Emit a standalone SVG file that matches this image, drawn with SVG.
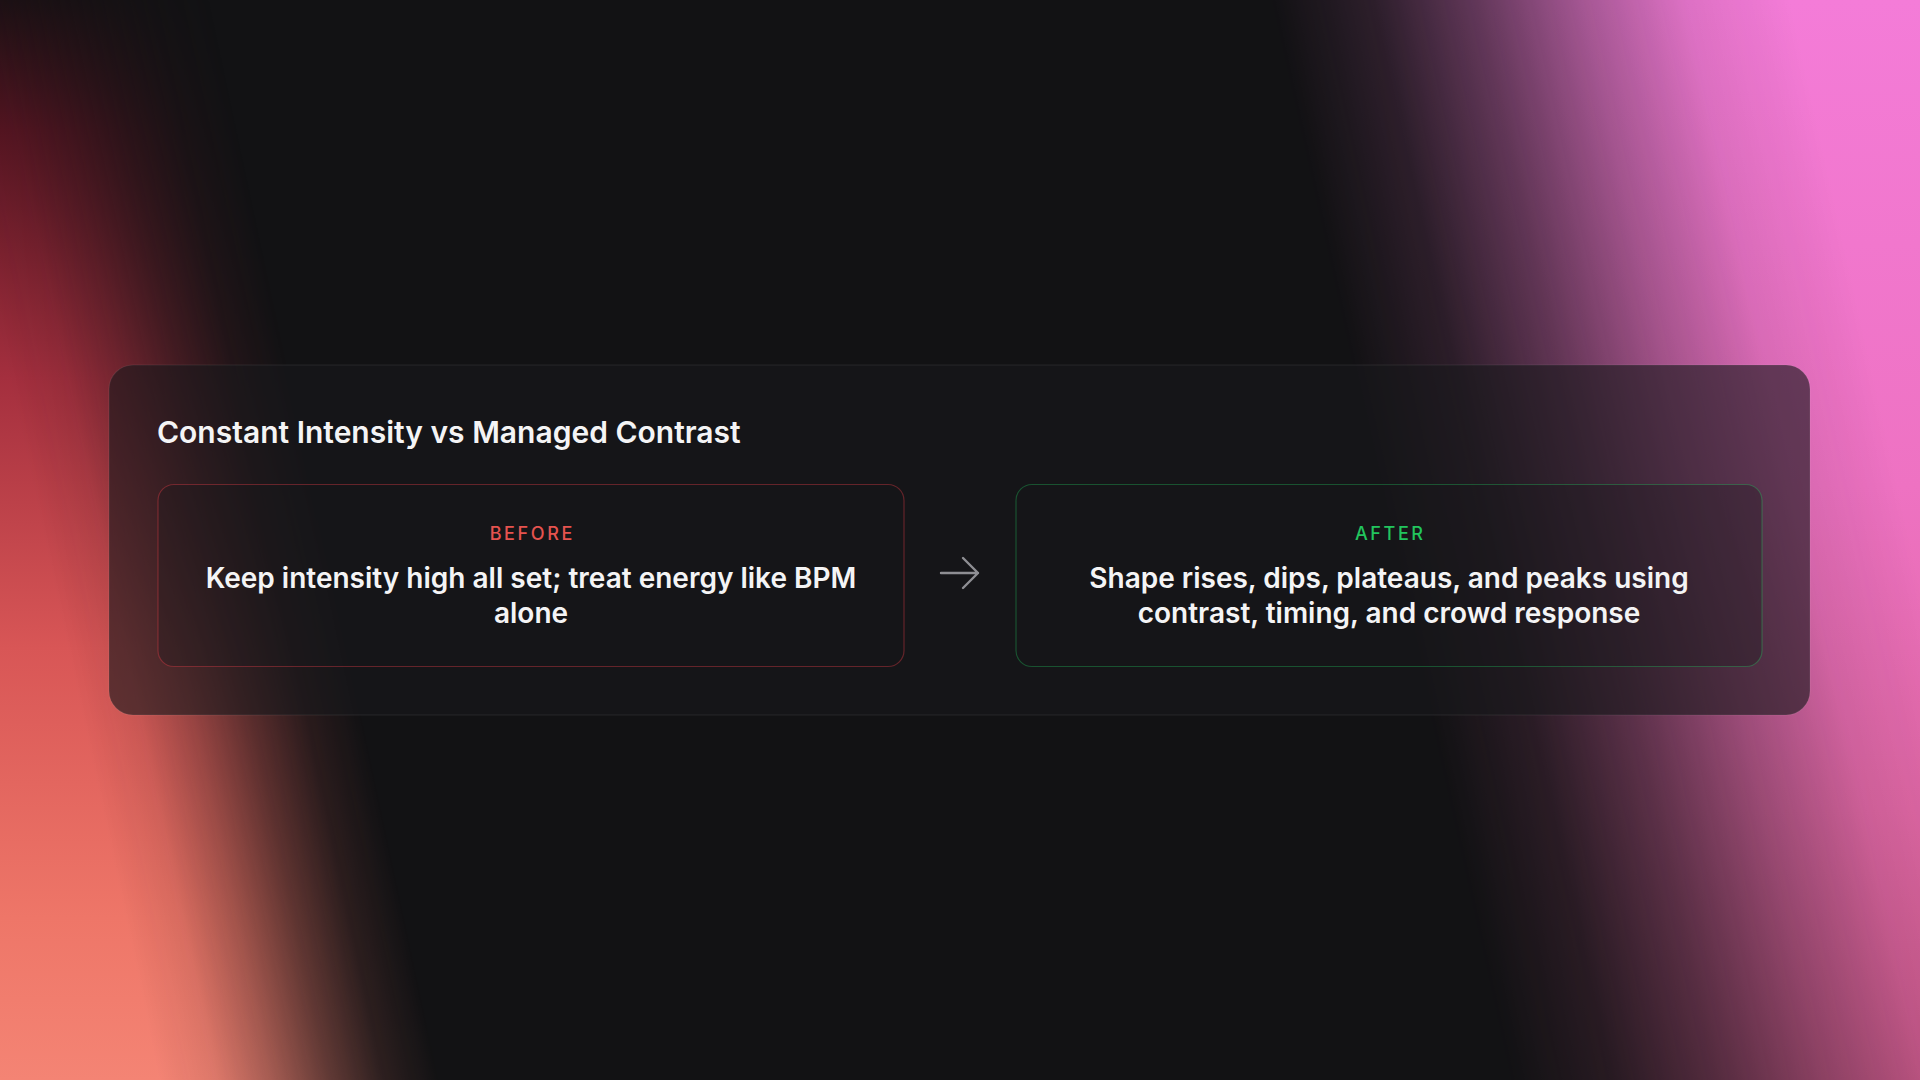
<svg xmlns="http://www.w3.org/2000/svg" width="1920" height="1080" viewBox="0 0 1920 1080">
<defs>
<linearGradient id="lg" x1="0" y1="0" x2="0" y2="1">
  <stop offset="0" stop-color="#1e1014"/>
  <stop offset="0.12" stop-color="#581522"/>
  <stop offset="0.35" stop-color="#a42f3e"/>
  <stop offset="0.6" stop-color="#d85656"/>
  <stop offset="0.85" stop-color="#ee7668"/>
  <stop offset="1" stop-color="#f48474"/>
</linearGradient>
<linearGradient id="rg" x1="0" y1="0" x2="0" y2="1">
  <stop offset="0" stop-color="#f47cd8"/>
  <stop offset="0.45" stop-color="#ee72c2"/>
  <stop offset="0.75" stop-color="#e268a6"/>
  <stop offset="1" stop-color="#cc5a8c"/>
</linearGradient>
<linearGradient id="lm" gradientUnits="userSpaceOnUse" x1="-70" y1="0" x2="210" y2="0" gradientTransform="skewX(12)">
  <stop offset="0" stop-color="#fff"/>
  <stop offset="0.2" stop-color="#fff" stop-opacity="0.9"/>
  <stop offset="0.4" stop-color="#fff" stop-opacity="0.65"/>
  <stop offset="0.6" stop-color="#fff" stop-opacity="0.36"/>
  <stop offset="0.8" stop-color="#fff" stop-opacity="0.12"/>
  <stop offset="1" stop-color="#fff" stop-opacity="0"/>
</linearGradient>
<linearGradient id="rm" gradientUnits="userSpaceOnUse" x1="1790" y1="0" x2="1270" y2="0" gradientTransform="skewX(12.5)">
  <stop offset="0" stop-color="#fff"/>
  <stop offset="0.2" stop-color="#fff" stop-opacity="0.9"/>
  <stop offset="0.4" stop-color="#fff" stop-opacity="0.65"/>
  <stop offset="0.6" stop-color="#fff" stop-opacity="0.36"/>
  <stop offset="0.8" stop-color="#fff" stop-opacity="0.12"/>
  <stop offset="1" stop-color="#fff" stop-opacity="0"/>
</linearGradient>
<mask id="lmask" maskUnits="userSpaceOnUse" x="0" y="0" width="1920" height="1080"><rect width="1920" height="1080" fill="url(#lm)"/></mask>
<mask id="rmask" maskUnits="userSpaceOnUse" x="0" y="0" width="1920" height="1080"><rect width="1920" height="1080" fill="url(#rm)"/></mask>
<style>
.title{font-family:Inter,"Liberation Sans",sans-serif;font-size:30px;font-weight:600;fill:#f4f4f5}
.body{font-family:Inter,"Liberation Sans",sans-serif;font-size:28px;font-weight:600;fill:#f4f4f5}
.lbl{font-family:Inter,"Liberation Sans",sans-serif;font-size:18px;font-weight:500;letter-spacing:2.6px}
.card{stroke-width:1.2}
</style>
</defs>
<rect width="1920" height="1080" fill="#121214"/>
<rect width="1920" height="1080" fill="url(#lg)" mask="url(#lmask)"/>
<rect width="1920" height="1080" fill="url(#rg)" mask="url(#rmask)"/>
<g id="panel">
  <rect x="109" y="365" width="1701" height="350" rx="24" fill="#18181b" fill-opacity="0.62" stroke="#ffffff" stroke-opacity="0.08" stroke-width="1.2"/>
  <text class="title" x="157" y="443">Constant Intensity vs Managed Contrast</text>
</g>
<g id="before">
  <rect class="card" x="158" y="484.5" width="746" height="182" rx="16" fill="#18181b" fill-opacity="0.3" stroke="#dc3c46" stroke-opacity="0.4"/>
  <text class="lbl" x="532.3" y="540" text-anchor="middle" fill="#e5534f">BEFORE</text>
  <text class="body" x="531" y="588" text-anchor="middle">Keep intensity high all set; treat energy like BPM</text>
  <text class="body" x="531" y="623" text-anchor="middle">alone</text>
</g>
<g id="after">
  <rect class="card" x="1016" y="484.5" width="746" height="182" rx="16" fill="#18181b" fill-opacity="0.3" stroke="#22c55e" stroke-opacity="0.35"/>
  <text class="lbl" x="1390.3" y="540" text-anchor="middle" fill="#22c55e">AFTER</text>
  <text class="body" x="1389" y="588" text-anchor="middle">Shape rises, dips, plateaus, and peaks using</text>
  <text class="body" x="1389" y="623" text-anchor="middle">contrast, timing, and crowd response</text>
</g>
<g id="connectors" fill="none" stroke="#8e8e93" stroke-width="2.4" stroke-linecap="round" stroke-linejoin="round">
  <path d="M941 573 H978 M963 558 L978 573 L963 588"/>
</g>
</svg>
